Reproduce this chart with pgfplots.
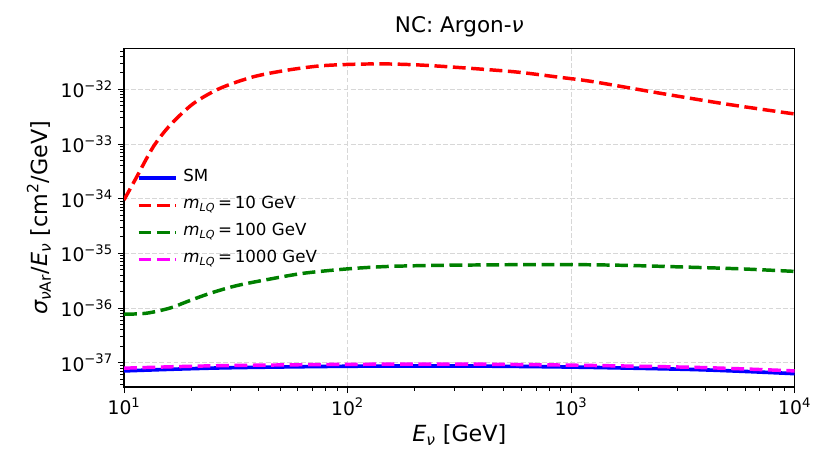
\documentclass[border=0pt]{standalone}
\usepackage{pgfplots}
\pgfplotsset{compat=1.18}
\usepackage{fontspec}
\setmainfont{DejaVu Sans}
\definecolor{mplblue}{RGB}{0,0,255}
\definecolor{mplred}{RGB}{255,0,0}
\definecolor{mplgreen}{RGB}{0,128,0}
\definecolor{mplmag}{RGB}{255,0,255}
\definecolor{gridgray}{RGB}{215,215,215}
\newcommand{\tsup}[1]{\textsuperscript{#1}}
\begin{document}
\begin{tikzpicture}
\useasboundingbox (0,0) rectangle (597.6pt,342pt);
\begin{axis}[
  at={(89.3pt,63.4pt)}, anchor=south west,
  scale only axis, width=482.8pt, height=243.4pt,
  xmode=log, ymode=log,
  xmin=10, xmax=10000, ymin=3.6e-38, ymax=5.5e-32,
  xtick={10,100,1000,10000},
  xticklabels={10\tsup{1},10\tsup{2},10\tsup{3},10\tsup{4}},
  minor xtick={20,30,40,50,60,70,80,90,200,300,400,500,600,700,800,900,2000,3000,4000,5000,6000,7000,8000,9000},
  ytick={1e-37,1e-36,1e-35,1e-34,1e-33,1e-32},
  yticklabels={10\tsup{−37},10\tsup{−36},10\tsup{−35},10\tsup{−34},10\tsup{−33},10\tsup{−32}},
  minor ytick={4e-38,5e-38,6e-38,7e-38,8e-38,9e-38,
    2e-37,3e-37,4e-37,5e-37,6e-37,7e-37,8e-37,9e-37,
    2e-36,3e-36,4e-36,5e-36,6e-36,7e-36,8e-36,9e-36,
    2e-35,3e-35,4e-35,5e-35,6e-35,7e-35,8e-35,9e-35,
    2e-34,3e-34,4e-34,5e-34,6e-34,7e-34,8e-34,9e-34,
    2e-33,3e-33,4e-33,5e-33,6e-33,7e-33,8e-33,9e-33,
    2e-32,3e-32,4e-32,5e-32},
  tick pos=left, tick align=outside,
  major tick length=4.5pt, minor tick length=2.6pt,
  every tick/.style={black, line width=0.7pt},
  axis line style={line width=0.8pt},
  ticklabel style={font=\fontsize{13.5}{16}\selectfont},
  xmajorgrids, ymajorgrids,
  major grid style={gridgray, line width=0.7pt, dash pattern=on 3.5pt off 1.6pt},
  xlabel={{\itshape E}\textsubscript{\itshape ν} [GeV]},
  ylabel={{\itshape σ}\textsubscript{{\itshape ν}Ar}/{\itshape E}\textsubscript{\itshape ν} [cm\tsup{2}/GeV]},
  xlabel style={at={(axis description cs:0.5,-0.142)}, anchor=center, font=\fontsize{16}{19}\selectfont},
  ylabel style={at={(axis description cs:-0.127,0.5)}, anchor=center, rotate=0, font=\fontsize{16}{19}\selectfont},
  title={NC: Argon-{\itshape ν}},
  title style={at={(axis description cs:0.5,1.050)}, anchor=base, yshift=-6pt, font=\fontsize{15.5}{18}\selectfont},
  legend image code/.code={\draw[#1] (0pt,0pt) -- (27pt,0pt);},
  legend cell align=left,
  legend style={draw=none, fill=none, at={(axis description cs:0.0185,0.641)}, anchor=north west,
    inner sep=0pt, row sep=8.5pt, font=\fontsize{12}{14}\selectfont,
    nodes={inner xsep=4pt, inner ysep=0pt, text height=8pt, text depth=3pt}},
]
\addplot[mplblue, line width=2.6pt, smooth] coordinates {
(10,7.08e-38) (17.78,7.67e-38) (31.62,8.13e-38) (100,8.61e-38) (316.2,8.71e-38)
(1000,8.32e-38) (3162,7.59e-38) (5623,7.00e-38) (10000,6.31e-38)};
\addlegendentry{SM}
\addplot[mplred, line width=2.5pt, dash pattern=on 9.25pt off 4pt, smooth] coordinates {
(10,9.5e-35) (11.40,2.51e-34) (13.52,8.91e-34) (16.07,2.21e-33) (20.42,5.50e-33)
(26.92,1.047e-32) (37.93,1.70e-32) (53.46,2.24e-32) (75.34,2.69e-32) (106.2,2.88e-32)
(149.6,2.92e-32) (210.9,2.79e-32) (316.2,2.51e-32) (562.3,2.09e-32) (893.3,1.66e-32)
(1259,1.38e-32) (2500,8.51e-33) (4966,5.37e-33) (10000,3.55e-33)};
\addlegendentry{{\itshape m}\textsubscript{\itshape LQ}\,=\,10 GeV}
\addplot[mplgreen, line width=2.5pt, dash pattern=on 9.25pt off 4pt, smooth] coordinates {
(10,7.70e-37) (12.62,8.05e-37) (16.07,1.00e-36) (19.05,1.30e-36) (24.27,1.862e-36)
(31.92,2.57e-36) (44.98,3.39e-36) (63.39,4.32e-36) (99.08,5.19e-36) (149.6,5.75e-36)
(250,6.03e-36) (562.3,6.21e-36) (990.8,6.24e-36) (1774,6.03e-36) (3524,5.56e-36)
(5888,5.19e-36) (10000,4.68e-36)};
\addlegendentry{{\itshape m}\textsubscript{\itshape LQ}\,=\,100 GeV}
\addplot[mplmag, line width=2.5pt, dash pattern=on 9.25pt off 4pt, smooth] coordinates {
(10,7.94e-38) (17.78,8.51e-38) (31.62,8.91e-38) (100,9.33e-38) (316.2,9.44e-38)
(1000,9.02e-38) (3162,8.32e-38) (5623,7.76e-38) (10000,7.08e-38)};
\addlegendentry{{\itshape m}\textsubscript{\itshape LQ}\,=\,1000 GeV}
\end{axis}
\end{tikzpicture}
\end{document}
